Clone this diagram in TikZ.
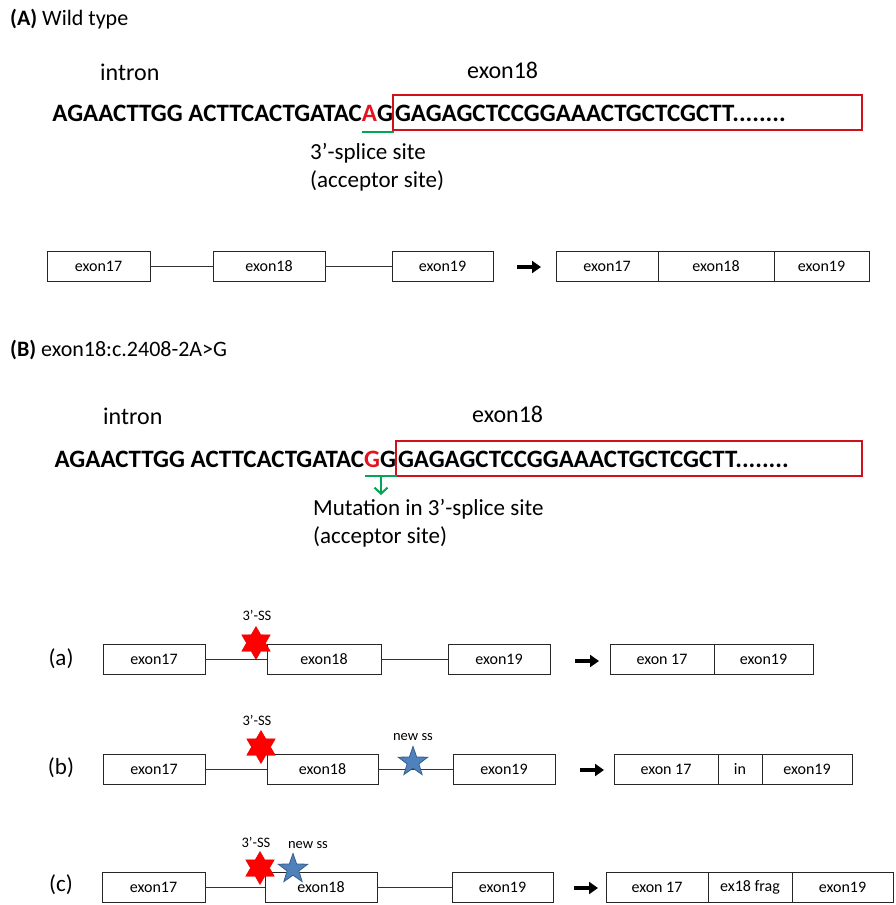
\documentclass[tikz,border=0pt]{standalone}
\usepackage{fontspec}
\setmainfont{Carlito}
\usetikzlibrary{shapes.geometric,arrows.meta}
\definecolor{seqred}{HTML}{E3141E}
\definecolor{boxred}{HTML}{D0101A}
\definecolor{sitegreen}{HTML}{00A651}
\definecolor{starblue}{HTML}{4F81BD}
\definecolor{starblueline}{HTML}{385D8A}
\tikzset{
  exonbox/.style={draw=black!85, line width=0.9pt, minimum height=30pt, inner sep=0pt, outer sep=0pt, anchor=west, font=\fontsize{16}{18}\selectfont},
  seqtext/.style={inner sep=0pt, outer sep=0pt, font=\fontsize{25}{29}\bfseries\selectfont},
  seqbox/.style={draw=boxred, line width=1.8pt, inner sep=0pt, outer sep=0pt, anchor=north west},
  lbl/.style={inner sep=0pt, font=\fontsize{24}{28}\selectfont},
  hdr/.style={inner sep=0pt, anchor=west, font=\fontsize{22}{26}\selectfont},
  sitelbl/.style={inner sep=0pt, anchor=west, font=\fontsize{23}{27}\selectfont},
  rowlbl/.style={inner sep=0pt, font=\fontsize{23}{26}\selectfont},
  sslbl/.style={inner sep=0pt, font=\fontsize{14.5}{17}\selectfont},
  intronline/.style={draw=black!80, line width=0.9pt},
  blockarrow/.style={line width=4.5pt, -{Triangle[length=9pt,width=12pt]}},
  greenline/.style={draw=sitegreen, line width=2.2pt},
  redstar/.style={star, star points=6, star point ratio=1.73, fill=red, draw=red!90!black, line width=0.4pt, inner sep=0pt, minimum size=33pt},
  bluestar/.style={star, star points=5, star point ratio=2.5, fill=starblue, draw=starblueline, line width=0.8pt, inner sep=0pt, minimum size=31pt}
}
\begin{document}
\begin{tikzpicture}[x=1pt,y=-1pt]
\useasboundingbox[fill=white] (0,0) rectangle (895,905);

% ---------------- (A) ----------------
\node[hdr] (hA) at (10,19) {\textbf{(A)} Wild type};
\node[lbl, anchor=west] (inA) at (100,72) {intron};
\node[lbl, anchor=west] (exlA) at (467,70) {exon18};
\node[seqbox, minimum width=469pt, minimum height=35pt] (boxA) at (393,95) {};
\node[seqtext, anchor=base east] (seqAi) at (393,121) {AGAACTTGG ACTTCACTGATAC\textcolor{seqred}{A}G};
\node[seqtext, anchor=base west] (seqAe) at (395,121) {GAGAGCTCCGGAAACTGCTCGCTT........};
\coordinate (gA1) at (362,132);
\coordinate (gA2) at (394,132);
\draw[greenline] (gA1) -- (gA2);
\node[sitelbl] (ssA1) at (310,153) {3’-splice site};
\node[sitelbl] (ssA2) at (310,181) {(acceptor site)};

% gene row A
\node[exonbox, minimum width=103pt] (A17) at (47,266) {exon17};
\node[exonbox, minimum width=112pt] (A18) at (213,266) {exon18};
\node[exonbox, minimum width=101pt] (A19) at (392,266) {exon19};
\draw[intronline] (A17.east) -- (A18.west);
\draw[intronline] (A18.east) -- (A19.west);
\coordinate (xA1) at (517,267);
\coordinate (xA2) at (541,267);
\draw[blockarrow] (xA1) -- (xA2);
\node[exonbox, minimum width=102pt] (RA1) at (556,266) {exon17};
\node[exonbox, minimum width=116pt] (RA2) at (RA1.east) {exon18};
\node[exonbox, minimum width=95pt] (RA3) at (RA2.east) {exon19};

% ---------------- (B) ----------------
\node[hdr] (hB) at (10,350) {\textbf{(B)} exon18:c.2408-2A>G};
\node[lbl, anchor=west] (inB) at (103,416) {intron};
\node[lbl, anchor=west] (exlB) at (472,414) {exon18};
\node[seqbox, minimum width=466pt, minimum height=35pt] (boxB) at (396,441) {};
\node[seqtext, anchor=base east] (seqBi) at (396,467) {AGAACTTGG ACTTCACTGATAC\textcolor{seqred}{G}G};
\node[seqtext, anchor=base west] (seqBe) at (398,467) {GAGAGCTCCGGAAACTGCTCGCTT........};
\coordinate (gB1) at (365,476);
\coordinate (gB2) at (397,476);
\coordinate (gB3) at (381,476);
\coordinate (gB4) at (381,495);
\draw[greenline] (gB1) -- (gB2);
\draw[greenline, line width=2pt, -{Straight Barb[length=6pt,width=13pt]}] (gB3) -- (gB4);
\node[sitelbl] (ssB1) at (313,509) {Mutation in 3’-splice site};
\node[sitelbl] (ssB2) at (313,537) {(acceptor site)};

% row (a)
\node[rowlbl] (la) at (61,659) {(a)};
\node[exonbox, minimum width=102pt] (a17) at (103,659) {exon17};
\node[exonbox, minimum width=114pt] (a18) at (267,659) {exon18};
\node[exonbox, minimum width=102pt] (a19) at (448,659) {exon19};
\draw[intronline] (a17.east) -- (a18.west);
\draw[intronline] (a18.east) -- (a19.west);
\node[redstar] (sa) at (256,643) {};
\node[sslbl] (ssa) at (257,615) {3’-SS};
\coordinate (xa1) at (575,661);
\coordinate (xa2) at (599,661);
\draw[blockarrow] (xa1) -- (xa2);
\node[exonbox, minimum width=104pt] (Ra1) at (610,659) {exon 17};
\node[exonbox, minimum width=99pt] (Ra2) at (Ra1.east) {exon19};

% row (b)
\node[rowlbl] (lb) at (61,768) {(b)};
\node[exonbox, minimum width=102pt] (b17) at (103,769) {exon17};
\node[exonbox, minimum width=111pt] (b18) at (267,769) {exon18};
\node[exonbox, minimum width=102pt] (b19) at (453,769) {exon19};
\draw[intronline] (b17.east) -- (b18.west);
\draw[intronline] (b18.east) -- (b19.west);
\node[redstar] (sb) at (261,747) {};
\node[sslbl] (ssb) at (257,720) {3’-SS};
\node[bluestar] (nb) at (413,762) {};
\node[sslbl] (nsb) at (413,737) {new ss};
\coordinate (xb1) at (580,770);
\coordinate (xb2) at (604,770);
\draw[blockarrow] (xb1) -- (xb2);
\node[exonbox, minimum width=104pt] (Rb1) at (614,769) {exon 17};
\node[exonbox, minimum width=44pt] (Rb2) at (Rb1.east) {in};
\node[exonbox, minimum width=90pt] (Rb3) at (Rb2.east) {exon19};

% row (c)
\node[rowlbl] (lc) at (61,885) {(c)};
\node[exonbox, minimum width=103pt] (c17) at (102,887) {exon17};
\node[exonbox, minimum width=112pt] (c18) at (265,887) {exon18};
\node[exonbox, minimum width=101pt] (c19) at (452,887) {exon19};
\draw[intronline] (c17.east) -- (c18.west);
\draw[intronline] (c18.east) -- (c19.west);
\node[redstar] (sc) at (260,868) {};
\node[bluestar] (nc) at (293,869) {};
\node[sslbl] (ssc) at (256,842) {3’-SS};
\node[sslbl] (nsc) at (308,845) {new ss};
\coordinate (xc1) at (574,888);
\coordinate (xc2) at (598,888);
\draw[blockarrow] (xc1) -- (xc2);
\node[exonbox, minimum width=102pt] (Rc1) at (606,887) {exon 17};
\node[exonbox, minimum width=84pt] (Rc2) at (Rc1.east) {ex18 frag};
\node[exonbox, minimum width=101pt] (Rc3) at (Rc2.east) {exon19};
\end{tikzpicture}
\end{document}
